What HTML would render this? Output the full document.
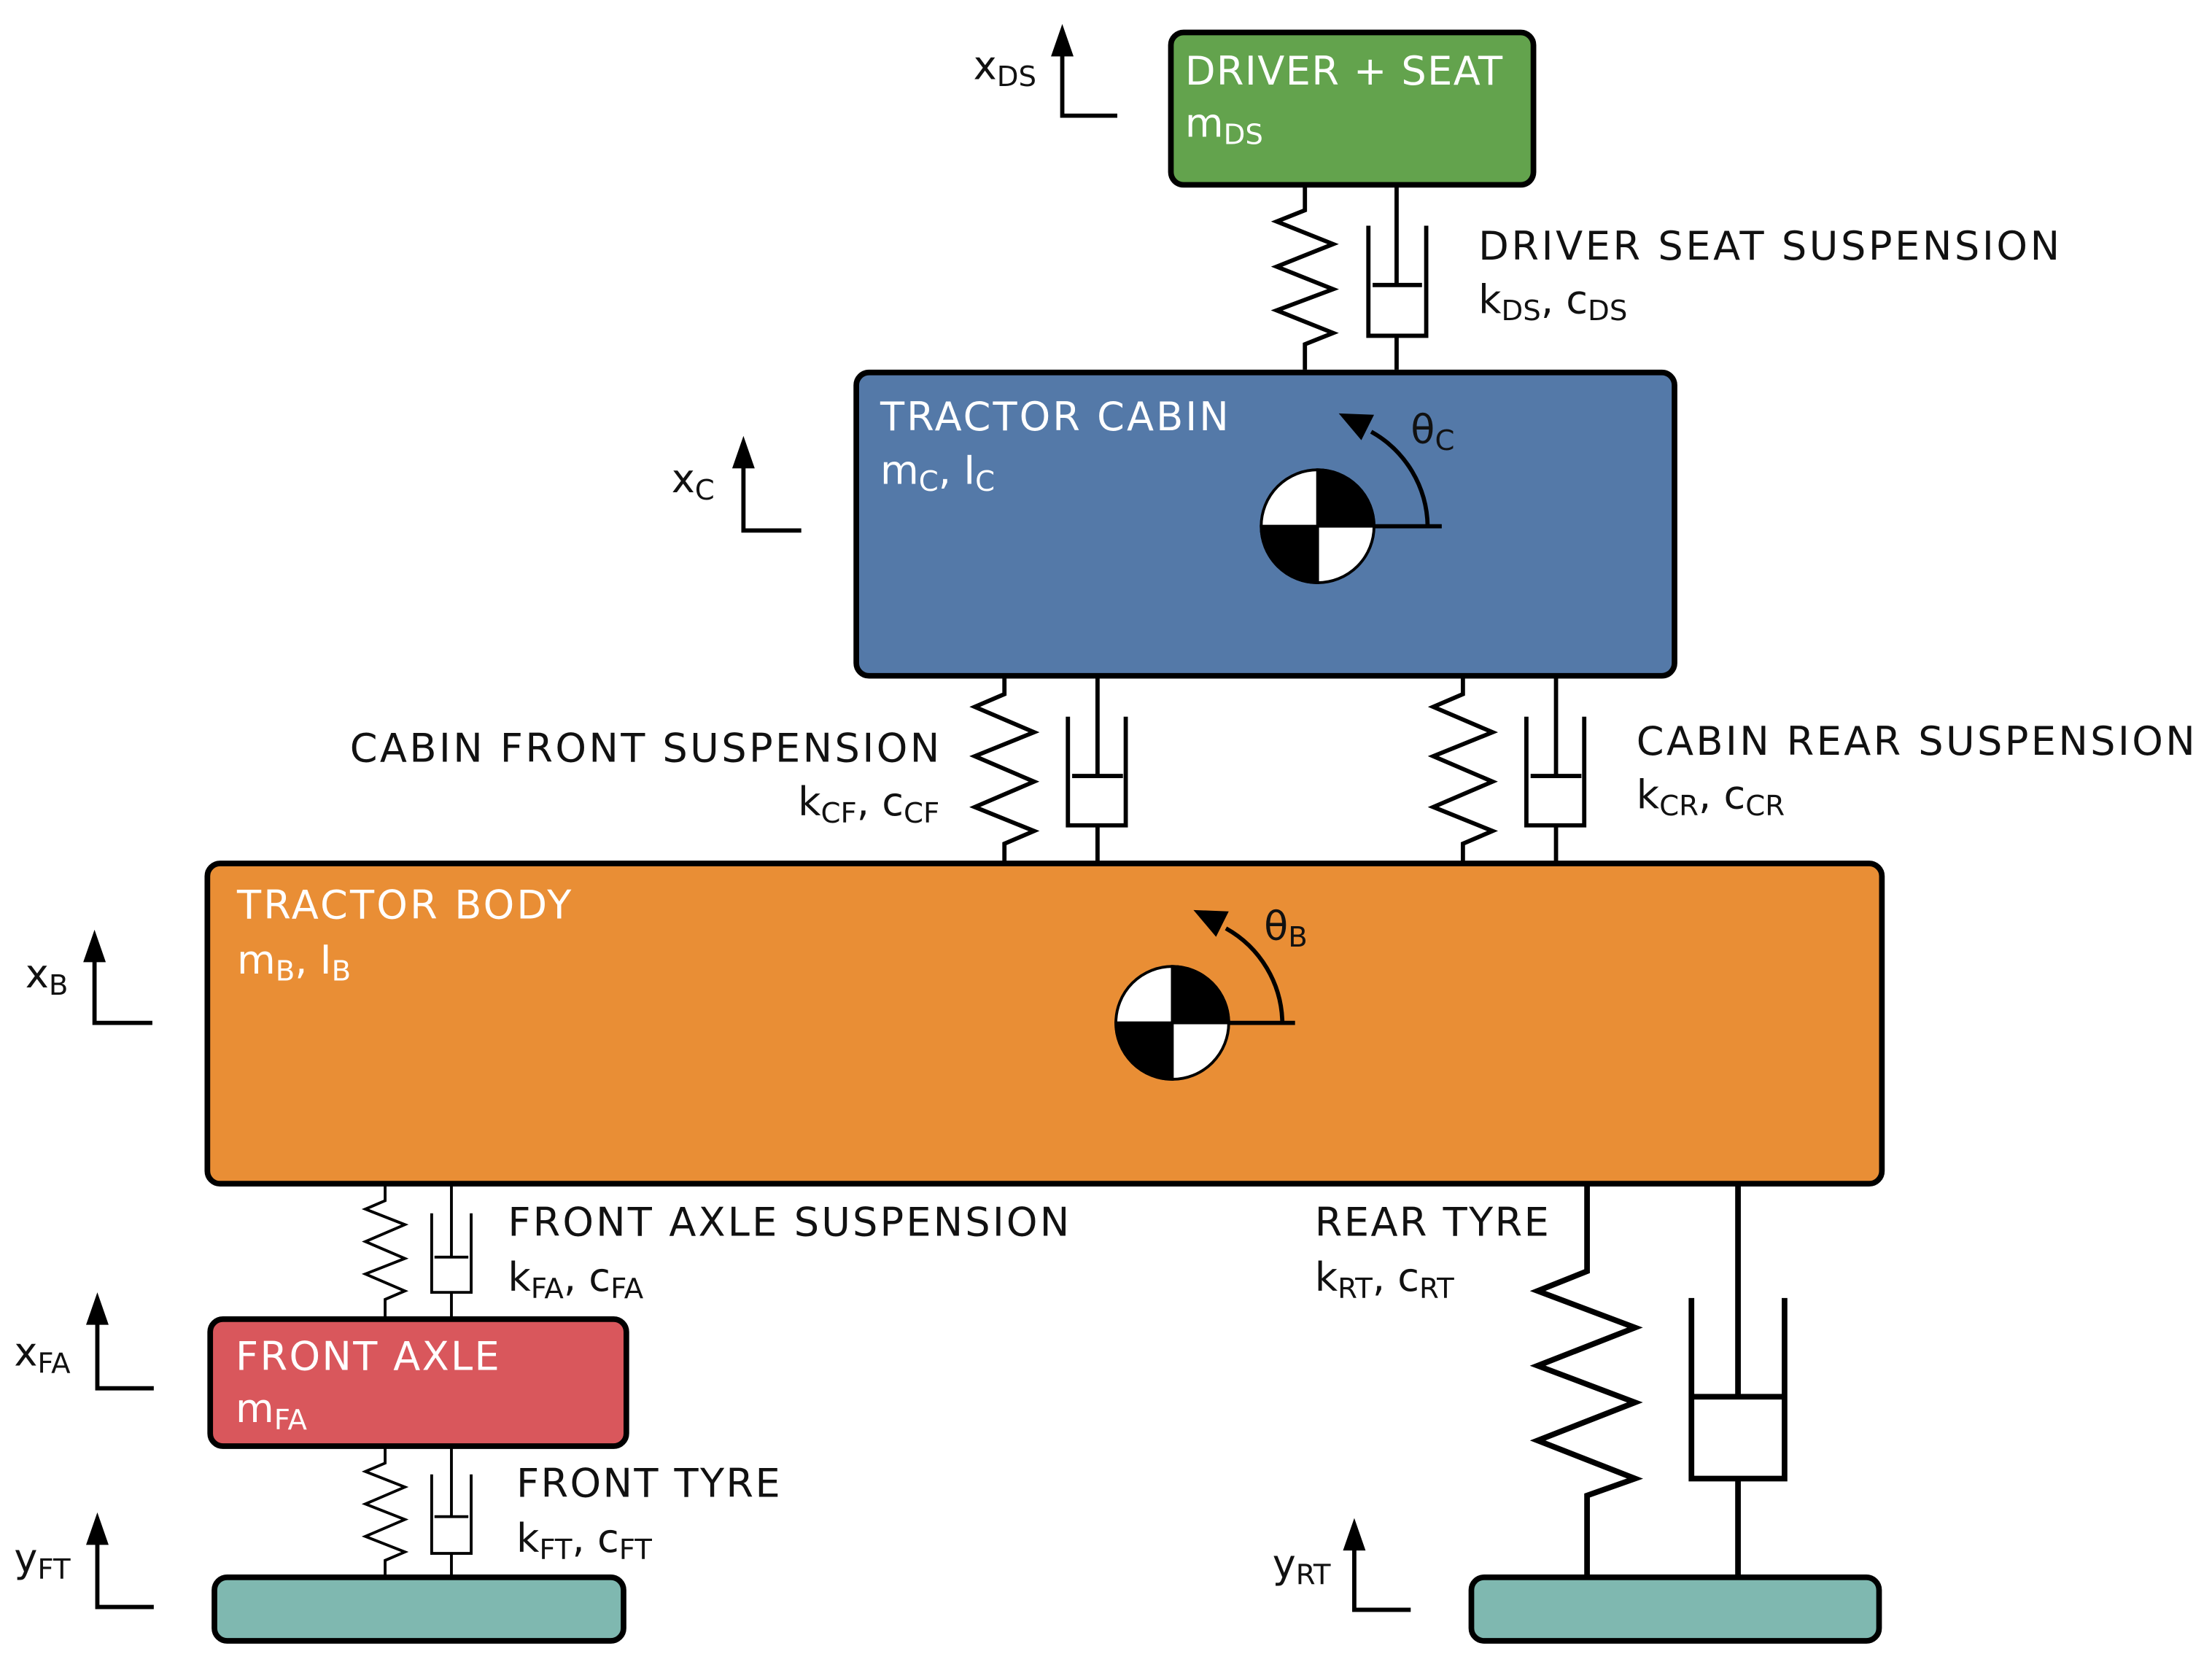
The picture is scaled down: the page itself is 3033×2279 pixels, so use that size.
<!DOCTYPE html>
<html><head><meta charset="utf-8"><style>
html,body{margin:0;padding:0;background:#fff;}
svg{display:block;}
text{font-family:"DejaVu Sans","Liberation Sans",sans-serif;font-size:28px;}
.w{fill:#fff;}
.k{fill:#111;}
.s{font-size:20px;}
</style></head><body>
<svg width="3033" height="2279" viewBox="0 0 1568 1178" preserveAspectRatio="none" xmlns="http://www.w3.org/2000/svg">
<g stroke="#000" fill="none" stroke-linejoin="miter">
<path stroke-width="3" d="M925 131 V149 L905 157 L945 173 L905 189 L945 205 L905 220 L945 236 L925 244 V262"/>
<path stroke-width="3" d="M990 131 V202 M973 202 H1008 M970 160 V238 H1011 V160 M990 238 V262"/>
<path stroke-width="3" d="M712 479 V492 L691 501 L733 519 L691 536 L733 554 L691 572 L733 589 L712 598 V612"/>
<path stroke-width="3" d="M778 479 V550 M760 550 H796 M757 508 V585 H798 V508 M778 585 V612"/>
<path stroke-width="3" d="M1037 479 V492 L1016 501 L1058 519 L1016 536 L1058 554 L1016 572 L1058 589 L1037 598 V612"/>
<path stroke-width="3" d="M1103 479 V550 M1085 550 H1121 M1082 508 V585 H1123 V508 M1103 585 V612"/>
<path stroke-width="2" d="M273 839 V851 L259 857 L287 868 L259 880 L287 892 L259 903 L287 915 L273 921 V935"/>
<path stroke-width="2" d="M320 839 V891 M308 891 H332 M306 860 V916 H334 V860 M320 916 V935"/>
<path stroke-width="2" d="M273 1025 V1037 L259 1043 L287 1054 L259 1066 L287 1077 L259 1089 L287 1100 L273 1106 V1118"/>
<path stroke-width="2" d="M320 1025 V1075 M308 1075 H332 M306 1045 V1101 H334 V1045 M320 1101 V1118"/>
<path stroke-width="4" d="M1125 839 V901 L1090 915 L1159 941 L1090 968 L1159 994 L1090 1021 L1159 1048 L1125 1060 V1118"/>
<path stroke-width="4" d="M1232 839 V990 M1201 990 H1263 M1199 920 V1048 H1265 V920 M1232 1048 V1118"/>
</g>
<rect x="830" y="23" width="257" height="108" rx="9" fill="#63a34d" stroke="#000" stroke-width="4"/>
<rect x="607" y="264" width="580" height="215" rx="9" fill="#5479a8" stroke="#000" stroke-width="4"/>
<rect x="147" y="612" width="1187" height="227" rx="9" fill="#e98e35" stroke="#000" stroke-width="4"/>
<rect x="149" y="935" width="295" height="90" rx="9" fill="#d9575c" stroke="#000" stroke-width="4"/>
<rect x="152" y="1118" width="290" height="45" rx="9" fill="#7fb8b0" stroke="#000" stroke-width="4"/>
<rect x="1043" y="1118" width="289" height="45" rx="9" fill="#7fb8b0" stroke="#000" stroke-width="4"/>
<g stroke="#000" stroke-width="2">
<circle cx="934" cy="373" r="40" fill="#fff"/>
<path d="M934 373 V333 A40 40 0 0 1 974 373 Z" fill="#000"/>
<path d="M934 373 V413 A40 40 0 0 1 894 373 Z" fill="#000"/>
<circle cx="831" cy="725" r="40" fill="#fff"/>
<path d="M831 725 V685 A40 40 0 0 1 871 725 Z" fill="#000"/>
<path d="M831 725 V765 A40 40 0 0 1 791 725 Z" fill="#000"/>
</g>
<g stroke="#000" stroke-width="3" fill="none">
<path d="M974 373 H1022 M1012 373 A78 78 0 0 0 972 306"/>
<path d="M871 725 H918 M909 725 A78 78 0 0 0 869 658"/>
</g>
<polygon points="949,293 974,294 965,312" fill="#000"/>
<polygon points="846,645 871,646 862,664" fill="#000"/>
<g stroke="#000" stroke-width="3" fill="none">
<path d="M753 36 V82 H792"/>
<path d="M527 328 V376 H568"/>
<path d="M67 678 V725 H108"/>
<path d="M69 934 V984 H109"/>
<path d="M69 1089 V1139 H109"/>
<path d="M960 1093 V1141 H1000"/>
</g>
<g fill="#000">
<polygon points="753,17 745,40 761,40"/>
<polygon points="527,309 519,332 535,332"/>
<polygon points="67,659 59,682 75,682"/>
<polygon points="69,916 61,939 77,939"/>
<polygon points="69,1072 61,1095 77,1095"/>
<polygon points="960,1076 952,1099 968,1099"/>
</g>
<text class="w" x="840" y="60" textLength="225">DRIVER + SEAT</text>
<text class="w" x="840" y="97">m<tspan class="s" dy="5">DS</tspan></text>
<text class="w" x="624" y="305" textLength="247">TRACTOR CABIN</text>
<text class="w" x="624" y="343">m<tspan class="s" dy="5">C</tspan><tspan dy="-5">, I</tspan><tspan class="s" dy="5">C</tspan></text>
<text class="w" x="168" y="651" textLength="237">TRACTOR BODY</text>
<text class="w" x="168" y="690">m<tspan class="s" dy="5">B</tspan><tspan dy="-5">, I</tspan><tspan class="s" dy="5">B</tspan></text>
<text class="w" x="167" y="971" textLength="187">FRONT AXLE</text>
<text class="w" x="167" y="1008">m<tspan class="s" dy="5">FA</tspan></text>
<text class="k" x="1000" y="314">θ<tspan class="s" dy="5">C</tspan></text>
<text class="k" x="896" y="666">θ<tspan class="s" dy="5">B</tspan></text>
<text class="k" x="690" y="56">x<tspan class="s" dy="5">DS</tspan></text>
<text class="k" x="476" y="349">x<tspan class="s" dy="5">C</tspan></text>
<text class="k" x="18" y="700">x<tspan class="s" dy="5">B</tspan></text>
<text class="k" x="10" y="968">x<tspan class="s" dy="5">FA</tspan></text>
<text class="k" x="10" y="1114">y<tspan class="s" dy="5">FT</tspan></text>
<text class="k" x="902" y="1118">y<tspan class="s" dy="5">RT</tspan></text>
<text class="k" x="1048" y="184" textLength="412">DRIVER SEAT SUSPENSION</text>
<text class="k" x="1048" y="222">k<tspan class="s" dy="5">DS</tspan><tspan dy="-5">, c</tspan><tspan class="s" dy="5">DS</tspan></text>
<text class="k" x="248" y="540" textLength="418">CABIN FRONT SUSPENSION</text>
<text class="k" x="666" y="578" text-anchor="end">k<tspan class="s" dy="5">CF</tspan><tspan dy="-5">, c</tspan><tspan class="s" dy="5">CF</tspan></text>
<text class="k" x="1160" y="535" textLength="396">CABIN REAR SUSPENSION</text>
<text class="k" x="1160" y="573">k<tspan class="s" dy="5">CR</tspan><tspan dy="-5">, c</tspan><tspan class="s" dy="5">CR</tspan></text>
<text class="k" x="360" y="876" textLength="398">FRONT AXLE SUSPENSION</text>
<text class="k" x="360" y="915">k<tspan class="s" dy="5">FA</tspan><tspan dy="-5">, c</tspan><tspan class="s" dy="5">FA</tspan></text>
<text class="k" x="932" y="876" textLength="166">REAR TYRE</text>
<text class="k" x="932" y="915">k<tspan class="s" dy="5">RT</tspan><tspan dy="-5">, c</tspan><tspan class="s" dy="5">RT</tspan></text>
<text class="k" x="366" y="1061" textLength="187">FRONT TYRE</text>
<text class="k" x="366" y="1100">k<tspan class="s" dy="5">FT</tspan><tspan dy="-5">, c</tspan><tspan class="s" dy="5">FT</tspan></text>
</svg>
</body></html>
